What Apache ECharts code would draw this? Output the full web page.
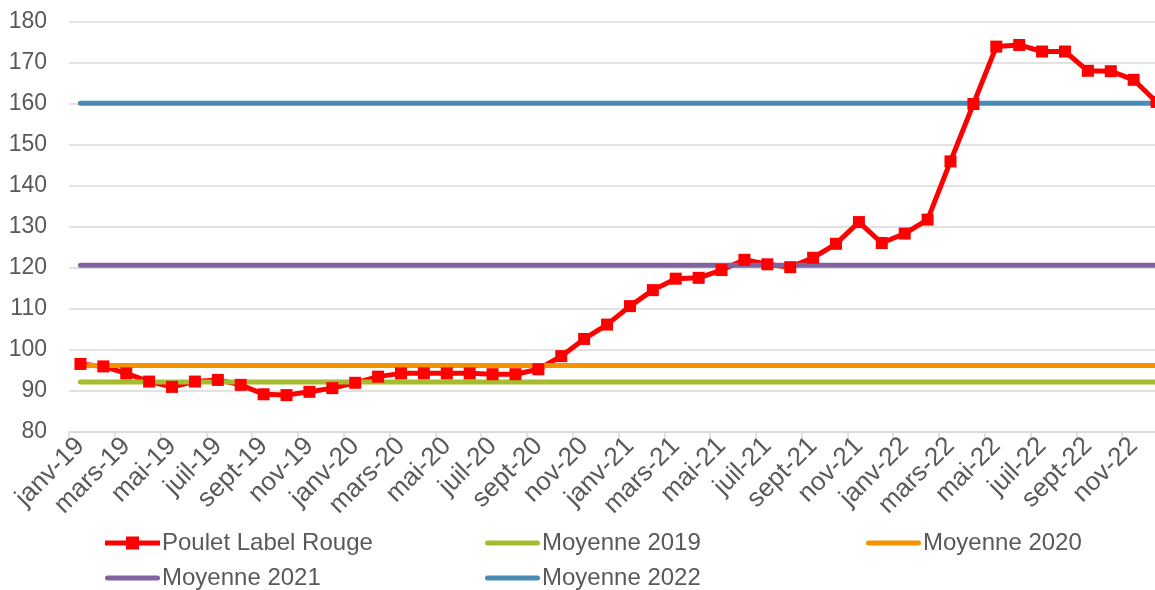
<!DOCTYPE html>
<html>
<head>
<meta charset="utf-8">
<script src="https://cdn.jsdelivr.net/npm/echarts@6/dist/echarts.min.js"></script>
<style>
  html, body { margin: 0; padding: 0; background: #fff; overflow: hidden; }
  /* the plot runs a little past the right edge of the window, as in the original */
  #chart { width: 1168px; height: 590px; }
</style>
</head>
<body>
<div id="chart"></div>
<script>
const monthNames = ['janv', 'févr', 'mars', 'avr', 'mai', 'juin', 'juil', 'août', 'sept', 'oct', 'nov', 'déc'];
const yearSuffixes = ['19', '20', '21', '22'];
const months = yearSuffixes.flatMap(y => monthNames.map(m => `${m}-${y}`));

// prix mensuel
const pouletLabelRouge = [
  96.6, 96.0, 94.3, 92.3, 91.0, 92.3, 92.7, 91.5, 89.2, 89.0, 89.8, 90.7,
  92.0, 93.5, 94.3, 94.3, 94.3, 94.3, 94.1, 94.1, 95.3, 98.5, 102.7, 106.2,
  110.7, 114.6, 117.4, 117.6, 119.5, 122.0, 120.9, 120.2, 122.5, 125.9, 131.2, 126.1,
  128.4, 131.8, 146.0, 160.0, 174.0, 174.4, 172.8, 172.8, 168.1, 168.0, 165.9, 160.5
];

const moyenne2019 = 92.2;
const moyenne2020 = 96.2;
const moyenne2021 = 120.7;
const moyenne2022 = 160.2;

const yTicks = { min: 80, max: 180, interval: 10 };

const FONT = '"Liberation Sans", Arial, sans-serif';
const TEXT = '#595959';
const GRID = '#d9d9d9';

// legend icons: thick line, with a square in the middle for the price series
const ICON_LINE = 'path://M2.5,0 L52.5,0 A2.5,2.5 0 0 1 52.5,5 L2.5,5 A2.5,2.5 0 0 1 2.5,0 Z';
const ICON_MARKER = 'path://M0,4 L55,4 L55,9 L0,9 Z M21,0 L34,0 L34,13 L21,13 Z';

const flat = (v) => months.map(() => v);

const avgSeries = (name, value, color) => ({
  name,
  type: 'line',
  data: flat(value),
  symbol: 'none',
  lineStyle: { width: 5, color, cap: 'round' },
  itemStyle: { color }
});

const legendAt = (name, icon, h, left, top) => ({
  data: [{ name, icon }],
  left, top,
  itemWidth: 55,
  itemHeight: h,
  itemGap: 0,
  padding: 0,
  textStyle: { color: TEXT, fontSize: 24, fontFamily: FONT, padding: [0, 0, 0, -3] }
});

const chart = echarts.init(document.getElementById('chart'));
chart.setOption({
  animation: false,
  backgroundColor: '#fff',
  grid: { left: 69, right: 0, top: 22, bottom: 158 },
  xAxis: {
    type: 'category',
    data: months,
    boundaryGap: true,
    axisLine: { lineStyle: { color: GRID, width: 1.5 } },
    axisTick: { show: true, interval: 1, length: 8, lineStyle: { color: GRID, width: 1.5 } },
    axisLabel: {
      interval: 1,
      rotate: 45,
      margin: 10,
      color: TEXT,
      fontSize: 26,
      fontFamily: FONT
    },
    splitLine: { show: false }
  },
  yAxis: {
    type: 'value',
    min: yTicks.min,
    max: yTicks.max,
    interval: yTicks.interval,
    axisLine: { show: false },
    axisTick: { show: false },
    axisLabel: { color: TEXT, fontSize: 23, fontFamily: FONT, margin: 22 },
    splitLine: { lineStyle: { color: GRID, width: 1.5 } }
  },
  legend: [
    legendAt('Poulet Label Rouge', ICON_MARKER, 13, 105, 531),
    legendAt('Moyenne 2019', ICON_LINE, 5, 485, 531),
    legendAt('Moyenne 2020', ICON_LINE, 5, 866, 531),
    legendAt('Moyenne 2021', ICON_LINE, 5, 105, 566),
    legendAt('Moyenne 2022', ICON_LINE, 5, 485, 566)
  ],
  series: [
    {
      name: 'Poulet Label Rouge',
      type: 'line',
      data: pouletLabelRouge,
      symbol: 'rect',
      symbolSize: 12,
      showAllSymbol: true,
      lineStyle: { width: 5, color: '#ff0000' },
      itemStyle: { color: '#ff0000' }
    },
    avgSeries('Moyenne 2019', moyenne2019, '#a5bc2f'),
    avgSeries('Moyenne 2020', moyenne2020, '#f59200'),
    avgSeries('Moyenne 2021', moyenne2021, '#8064a2'),
    avgSeries('Moyenne 2022', moyenne2022, '#4a8ab6')
  ]
});
</script>
</body>
</html>
